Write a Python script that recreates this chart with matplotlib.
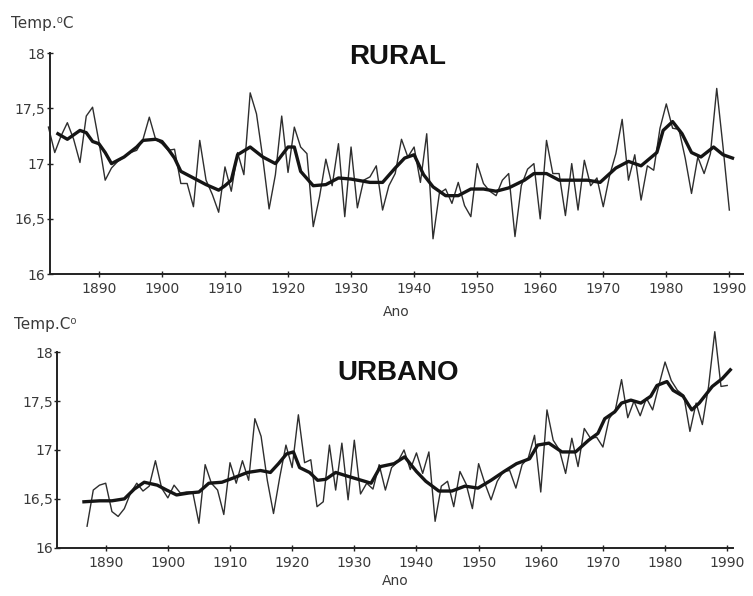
import matplotlib
matplotlib.use("Agg")
import matplotlib.pyplot as plt

# annual means
rural_years = list(range(1882, 1991))
rural_temp = [
    17.33, 17.10, 17.25, 17.37, 17.22, 17.01, 17.43, 17.51, 17.20, 16.85,
    16.96, 17.02, 17.06, 17.10, 17.12, 17.22, 17.42, 17.22, 17.18, 17.12,
    17.13, 16.82, 16.82, 16.61, 17.21, 16.85, 16.72, 16.56, 16.97, 16.75,
    17.10, 16.90, 17.64, 17.45, 17.05, 16.59, 16.90, 17.43, 16.92, 17.33,
    17.15, 17.09, 16.43, 16.70, 17.04, 16.80, 17.18, 16.52, 17.15, 16.60,
    16.85, 16.88, 16.98, 16.58, 16.80, 16.91, 17.22, 17.06, 17.15, 16.83,
    17.27, 16.32, 16.73, 16.77, 16.64, 16.83, 16.62, 16.52, 17.00, 16.82,
    16.75, 16.71, 16.85, 16.91, 16.34, 16.80, 16.95, 17.00, 16.50, 17.21,
    16.91, 16.91, 16.53, 17.00, 16.58, 17.03, 16.80, 16.87, 16.61, 16.89,
    17.09, 17.40, 16.85, 17.08, 16.67, 16.98, 16.94, 17.32, 17.54, 17.32,
    17.31, 17.05, 16.73, 17.06, 16.91, 17.09, 17.68, 17.15, 16.58,
]

# smoothed curve (thick line)
rural_smooth_years = [
    1883.5, 1885, 1887, 1888, 1889, 1890, 1891, 1892, 1894, 1896, 1897,
    1899, 1900, 1901, 1902, 1903, 1905, 1907, 1909, 1910, 1911, 1912,
    1914, 1916, 1918, 1920, 1921, 1922, 1924, 1926, 1928, 1930, 1933,
    1935, 1937, 1938.5, 1940, 1941.5, 1943, 1945, 1947, 1949, 1951, 1953,
    1955, 1957.5, 1959, 1961, 1963, 1965.5, 1967.5, 1969.5, 1972, 1974,
    1976, 1978.5, 1979.5, 1981, 1982.5, 1984, 1985.5, 1987.5, 1989, 1990.5,
]
rural_smooth = [
    17.27, 17.22, 17.30, 17.28, 17.20, 17.18, 17.10, 17.00, 17.06, 17.15, 17.21,
    17.22, 17.20, 17.13, 17.05, 16.93, 16.87, 16.81, 16.76, 16.80, 16.85, 17.08,
    17.15, 17.06, 17.00, 17.15, 17.15, 16.93, 16.80, 16.81, 16.87, 16.86, 16.83,
    16.83, 16.96, 17.05, 17.08, 16.90, 16.79, 16.71, 16.71, 16.77, 16.77, 16.75,
    16.78, 16.85, 16.91, 16.91, 16.85, 16.85, 16.85, 16.83, 16.96, 17.02,
    16.98, 17.10, 17.30, 17.38, 17.27, 17.10, 17.06, 17.15, 17.08, 17.05,
]

urban_years = list(range(1887, 1991))
urban_temp = [
    16.22, 16.59, 16.64, 16.66, 16.37, 16.32, 16.40, 16.56, 16.66, 16.58,
    16.63, 16.89, 16.61, 16.51, 16.64, 16.56, 16.57, 16.57, 16.25, 16.85,
    16.66, 16.59, 16.34, 16.87, 16.66, 16.89, 16.69, 17.32, 17.14, 16.69,
    16.35, 16.72, 17.05, 16.82, 17.36, 16.87, 16.90, 16.42, 16.47, 17.05,
    16.59, 17.07, 16.49, 17.10, 16.55, 16.66, 16.60, 16.85, 16.59, 16.82,
    16.88, 17.00, 16.80, 16.97, 16.76, 16.98, 16.27, 16.63, 16.68, 16.42,
    16.78, 16.65, 16.40, 16.86, 16.66, 16.49, 16.68, 16.78, 16.79, 16.61,
    16.85, 16.92, 17.15, 16.57, 17.41, 17.10, 17.00, 16.76, 17.12, 16.83,
    17.22, 17.12, 17.13, 17.03, 17.32, 17.41, 17.72, 17.33, 17.50, 17.35,
    17.53, 17.41, 17.66, 17.90, 17.71, 17.61, 17.56, 17.19, 17.48, 17.26,
    17.65, 18.21, 17.65, 17.66,
]

urban_smooth_years = [
    1886.5, 1889, 1891, 1893, 1894.6, 1896.2, 1898.3, 1899.8, 1901.4, 1903.4,
    1905, 1906.6, 1908.7, 1910.8, 1912.8, 1914.9, 1916.5, 1917.8, 1919.1,
    1920.2, 1921.2, 1922.8, 1924.1, 1925.4, 1927, 1928.5, 1930.6, 1932.7,
    1934.2, 1936.4, 1938.1, 1940, 1941.5, 1943.6, 1945.7, 1947.8, 1949.9,
    1952, 1954.1, 1956.1, 1958.2, 1959.5, 1961.3, 1963.4, 1965.6, 1967.7,
    1969.2, 1970.3, 1971.9, 1973, 1974.5, 1976.1, 1977.7, 1978.7, 1980.3,
    1981.3, 1982.9, 1984.3, 1985.5, 1987.6, 1989.2, 1990.5,
]
urban_smooth = [
    16.47, 16.48, 16.48, 16.50, 16.60, 16.67, 16.64, 16.59, 16.54, 16.56,
    16.57, 16.66, 16.67, 16.72, 16.77, 16.79, 16.77, 16.86, 16.96,
    16.98, 16.82, 16.77, 16.69, 16.70, 16.77, 16.74, 16.70, 16.66,
    16.83, 16.86, 16.93, 16.78, 16.68, 16.58, 16.58, 16.63, 16.61,
    16.69, 16.78, 16.86, 16.91, 17.05, 17.07, 16.98, 16.98, 17.10,
    17.17, 17.32, 17.39, 17.48, 17.51, 17.48, 17.55, 17.66, 17.70,
    17.61, 17.55, 17.41, 17.48, 17.65, 17.73, 17.82,
]

year_ticks = [1890, 1900, 1910, 1920, 1930, 1940, 1950, 1960, 1970, 1980, 1990]
temp_ticks = [16, 16.5, 17, 17.5, 18]
temp_labels = ["16", "16,5", "17", "17,5", "18"]

fig = plt.figure(figsize=(7.53, 5.96), dpi=100)
fig.patch.set_facecolor("white")

ink = "#151515"
text_color = "#3a3a3a"


def style_axes(ax, xmax):
    ax.set_xlim(1882.2, xmax)
    ax.set_ylim(16, 18)
    for side in ("top", "right"):
        ax.spines[side].set_visible(False)
    for side in ("left", "bottom"):
        ax.spines[side].set_linewidth(1.4)
        ax.spines[side].set_color("#222222")
    ax.set_xticks(year_ticks)
    ax.set_yticks(temp_ticks)
    ax.set_yticklabels(temp_labels)
    ax.tick_params(axis="both", direction="inout", length=4, width=1,
                   colors="#222222", labelcolor=text_color, labelsize=10)
    ax.tick_params(axis="y", pad=1)
    ax.tick_params(axis="x", pad=4)


ax1 = fig.add_axes([0.066, 0.540, 0.921, 0.371])
ax1.plot(rural_years, rural_temp, color="#2e2e2e", lw=1.0, clip_on=False)
ax1.plot(rural_smooth_years, rural_smooth, color=ink, lw=2.4,
         solid_joinstyle="round", clip_on=False)
style_axes(ax1, 1992.2)
fig.text(398 / 753, 1 - 57 / 596, "RURAL", ha="center", va="center",
         fontsize=20, fontweight="bold", family="Liberation Sans",
         color="#111111")
ax1.set_xlabel("Ano", fontsize=10, color=text_color, labelpad=6)
fig.text(0.015, 0.960, "Temp.\u2070C", fontsize=11, color=text_color,
         ha="left", va="center")

ax2 = fig.add_axes([0.076, 0.081, 0.898, 0.328])
ax2.plot(urban_years, urban_temp, color="#2e2e2e", lw=1.0, clip_on=False)
ax2.plot(urban_smooth_years, urban_smooth, color=ink, lw=2.4,
         solid_joinstyle="round", clip_on=False)
style_axes(ax2, 1991.0)
fig.text(398 / 753, 1 - 373 / 596, "URBANO", ha="center", va="center",
         fontsize=20, fontweight="bold", family="Liberation Sans",
         color="#111111")
ax2.set_xlabel("Ano", fontsize=10, color=text_color, labelpad=3)
fig.text(0.018, 0.455, "Temp.C\u2070", fontsize=11, color=text_color,
         ha="left", va="center")

fig.savefig("out.png", dpi=100, facecolor="white")
